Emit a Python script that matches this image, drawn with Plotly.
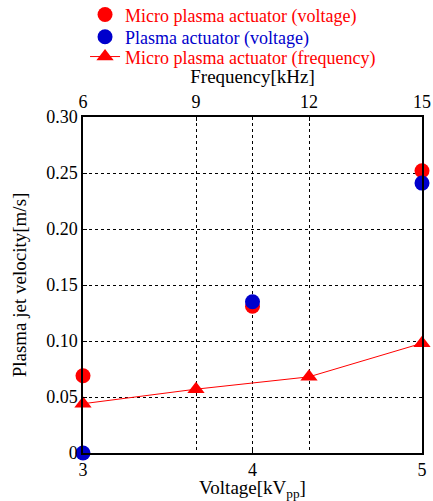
import plotly.graph_objects as go

voltage = [3, 4, 5]
micro_voltage_vel = [0.069, 0.131, 0.252]
plasma_voltage_vel = [0.0, 0.135, 0.241]
frequency = [6, 9, 12, 15]
micro_freq_vel = [0.044, 0.057, 0.068, 0.098]

y_ticks = [0, 0.05, 0.10, 0.15, 0.20, 0.25, 0.30]
y_ticktext = ["0", "0.05", "0.10", "0.15", "0.20", "0.25", "0.30"]
x_ticks = [3, 4, 5]
f_ticks = [6, 9, 12, 15]

RED = "#ff0000"
BLUE = "#0000cc"
FONT = "Liberation Serif"

fig = go.Figure()
fig.add_trace(go.Scatter(
    x=voltage, y=micro_voltage_vel, mode="markers",
    name="Micro plasma actuator (voltage)", legend="legend",
    marker=dict(symbol="circle", size=15, color=RED), cliponaxis=False,
    xaxis="x", yaxis="y"))
fig.add_trace(go.Scatter(
    x=voltage, y=plasma_voltage_vel, mode="markers",
    name="Plasma actuator (voltage)", legend="legend2",
    marker=dict(symbol="circle", size=15, color=BLUE), cliponaxis=False,
    xaxis="x", yaxis="y"))
fig.add_trace(go.Scatter(
    x=frequency, y=micro_freq_vel, mode="lines+markers",
    name="Micro plasma actuator (frequency)", legend="legend3",
    line=dict(color=RED, width=1),
    marker=dict(symbol="triangle-up", size=15, color=RED), cliponaxis=False,
    xaxis="x2", yaxis="y"))

axis_common = dict(
    showline=True, linecolor="black", linewidth=1.5,
    showgrid=True, gridcolor="black", griddash="dot", gridwidth=1,
    ticks="inside", ticklen=4, tickcolor="black",
    tickfont=dict(family=FONT, size=18, color="black"),
    zeroline=False, automargin=False,
)

def leg(y, color):
    return dict(x=0.006, y=y, xanchor="left", yanchor="middle",
                font=dict(family=FONT, size=18, color=color),
                bgcolor="rgba(0,0,0,0)", borderwidth=0,
                itemsizing="trace")

fig.update_layout(
    width=433, height=501,
    margin=dict(l=83, r=11, t=117, b=48, autoexpand=False),
    paper_bgcolor="white", plot_bgcolor="white",
    font=dict(family=FONT, color="black"),
    showlegend=True,
    legend=leg(1.304, RED),
    legend2=leg(1.238, BLUE),
    legend3=leg(1.179, RED),
    xaxis=dict(range=[3, 5], tickvals=x_ticks, ticktext=[str(v) for v in x_ticks],
               mirror=False,
               title=dict(text="Voltage[kV<sub>pp</sub>]", font=dict(family=FONT, size=19), standoff=3),
               **axis_common),
    xaxis2=dict(range=[6, 15], tickvals=f_ticks, ticktext=[str(v) for v in f_ticks],
                overlaying="x", side="top", anchor="y",
                title=dict(text="Frequency[kHz]", font=dict(family=FONT, size=19), standoff=3),
                **axis_common),
    yaxis=dict(range=[0, 0.30], tickvals=y_ticks, ticktext=y_ticktext, mirror=True,
               title=dict(text="Plasma jet velocity[m/s]", font=dict(family=FONT, size=19), standoff=15),
               **axis_common),
)

fig.write_html("out.html")
